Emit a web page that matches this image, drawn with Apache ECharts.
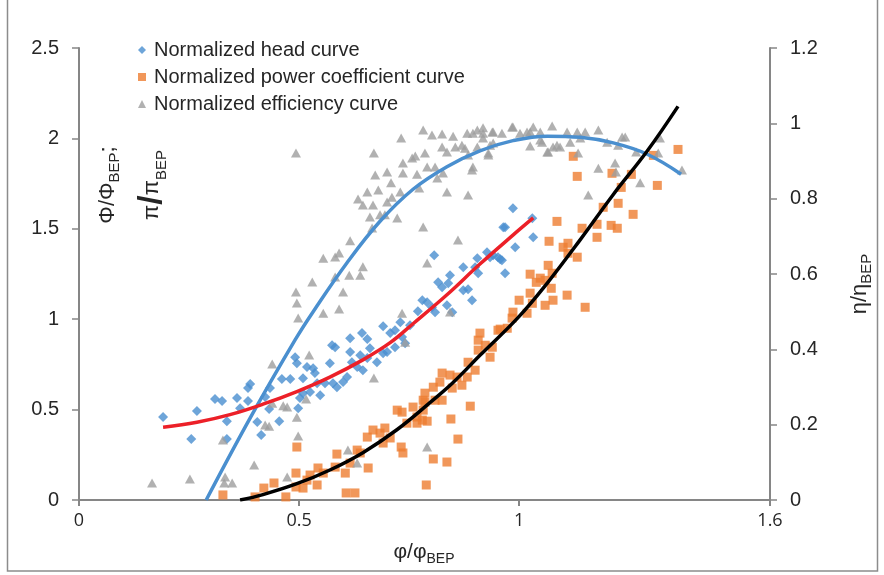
<!DOCTYPE html>
<html>
<head>
<meta charset="utf-8">
<script src="https://cdn.jsdelivr.net/npm/echarts@6/dist/echarts.min.js"></script>
<style>
  html, body { margin: 0; padding: 0; background: #fff; }
  #chart { width: 884px; height: 575px; }
</style>
</head>
<body>
<div id="chart"></div>
<script>
// phi/phi_BEP vs normalized head (left axis)
var headData = [
    [0.191, 0.459], [0.268, 0.492], [0.255, 0.337], [0.309, 0.558], [0.325, 0.547],
    [0.359, 0.564], [0.366, 0.508], [0.384, 0.547], [0.384, 0.619], [0.389, 0.641],
    [0.336, 0.436], [0.336, 0.337], [0.405, 0.431], [0.414, 0.359], [0.434, 0.619],
    [0.423, 0.569], [0.432, 0.503], [0.455, 0.436], [0.461, 0.669], [0.480, 0.669],
    [0.491, 0.790], [0.495, 0.757], [0.509, 0.674], [0.518, 0.735], [0.532, 0.729],
    [0.536, 0.702], [0.502, 0.564], [0.498, 0.508], [0.509, 0.591], [0.525, 0.597],
    [0.548, 0.580], [0.541, 0.646], [0.570, 0.757], [0.575, 0.856], [0.582, 0.845],
    [0.559, 0.646], [0.577, 0.646], [0.586, 0.624], [0.600, 0.652], [0.609, 0.680],
    [0.616, 0.818], [0.620, 0.762], [0.632, 0.735], [0.645, 0.718], [0.639, 0.801],
    [0.655, 0.785], [0.661, 0.840], [0.691, 0.812], [0.700, 0.818], [0.677, 0.762],
    [0.718, 0.845], [0.741, 0.867], [0.616, 0.895], [0.643, 0.923], [0.655, 0.890],
    [0.691, 0.961], [0.707, 0.923], [0.718, 0.939], [0.734, 0.901], [0.730, 0.983],
    [0.752, 0.967], [0.770, 1.044], [0.780, 1.105], [0.791, 1.094], [0.802, 1.066],
    [0.809, 1.039], [0.836, 1.077], [0.848, 1.039], [0.825, 1.177], [0.839, 1.199],
    [0.816, 1.204], [0.843, 1.243], [0.873, 1.160], [0.884, 1.166], [0.893, 1.105],
    [0.873, 1.287], [0.900, 1.287], [0.907, 1.254], [0.905, 1.337], [0.927, 1.370],
    [0.934, 1.343], [0.952, 1.343], [0.961, 1.326], [0.968, 1.254], [0.807, 1.354],
    [0.964, 1.508], [0.986, 1.613], [1.032, 1.453], [0.991, 1.398], [0.968, 1.508],
    [1.030, 1.558], [0.941, 1.354], [0.957, 1.331]
];

// normalized power coefficient (left axis)
var powerData = [
    [0.327, 0.028], [0.495, 0.293], [0.493, 0.149], [0.493, 0.072], [0.470, 0.017],
    [0.420, 0.066], [0.443, 0.094], [0.400, 0.017], [0.518, 0.110], [0.509, 0.066],
    [0.541, 0.083], [0.543, 0.177], [0.525, 0.138], [0.555, 0.149], [0.582, 0.182],
    [0.586, 0.254], [0.605, 0.149], [0.607, 0.039], [0.627, 0.039], [0.616, 0.204],
    [0.639, 0.260], [0.632, 0.276], [0.657, 0.177], [0.655, 0.348], [0.668, 0.387],
    [0.684, 0.370], [0.695, 0.398], [0.707, 0.343], [0.723, 0.497], [0.734, 0.486],
    [0.732, 0.293], [0.736, 0.260], [0.759, 0.514], [0.768, 0.459], [0.782, 0.552],
    [0.786, 0.591], [0.789, 0.083], [0.768, 0.425], [0.745, 0.425], [0.691, 0.315],
    [0.805, 0.227], [0.836, 0.210], [0.861, 0.337], [0.845, 0.448], [0.889, 0.519],
    [0.791, 0.436], [0.786, 0.541], [0.809, 0.552], [0.825, 0.552], [0.805, 0.624],
    [0.820, 0.652], [0.825, 0.702], [0.843, 0.691], [0.859, 0.680], [0.848, 0.619],
    [0.870, 0.635], [0.882, 0.680], [0.884, 0.762], [0.900, 0.718], [0.907, 0.829],
    [0.907, 0.884], [0.911, 0.923], [0.923, 0.856], [0.939, 0.845], [0.934, 0.790],
    [0.957, 0.945], [0.973, 0.950], [0.782, 0.497], [0.780, 0.442], [0.952, 0.939],
    [0.984, 1.006], [0.986, 1.039], [1.018, 1.033], [1.000, 1.105], [1.025, 1.144],
    [1.030, 1.088], [1.059, 1.077], [1.077, 1.105], [1.109, 1.133], [1.150, 1.066],
    [1.025, 1.249], [1.039, 1.204], [1.048, 1.227], [1.066, 1.298], [1.075, 1.254],
    [1.073, 1.171], [1.059, 1.215], [1.068, 1.431], [1.100, 1.398], [1.111, 1.420],
    [1.111, 1.365], [1.132, 1.343], [1.086, 1.541], [1.143, 1.503], [1.177, 1.453],
    [1.177, 1.525], [1.191, 1.619], [1.209, 1.519], [1.223, 1.503], [1.225, 1.641],
    [1.259, 1.580], [1.232, 1.729], [1.255, 1.801], [1.211, 1.807], [1.132, 1.790],
    [1.123, 1.901], [1.305, 1.906], [1.314, 1.740], [1.361, 1.939]
];

// normalized efficiency (right axis)
var effData = [
    [0.166, 0.045], [0.252, 0.056], [0.332, 0.061], [0.348, 0.045], [0.330, 0.045],
    [0.398, 0.093], [0.473, 0.061], [0.498, 0.170], [0.327, 0.159], [0.423, 0.199],
    [0.432, 0.196], [0.439, 0.257], [0.464, 0.250], [0.473, 0.247], [0.495, 0.220],
    [0.516, 0.268], [0.439, 0.361], [0.523, 0.385], [0.670, 0.324], [0.611, 0.133],
    [0.632, 0.098], [0.741, 0.419], [0.791, 0.141], [0.493, 0.921], [0.493, 0.552],
    [0.495, 0.523], [0.498, 0.483], [0.555, 0.496], [0.530, 0.579], [0.555, 0.642],
    [0.582, 0.645], [0.591, 0.656], [0.582, 0.592], [0.600, 0.552], [0.591, 0.507],
    [0.616, 0.688], [0.614, 0.597], [0.639, 0.597], [0.645, 0.619], [0.634, 0.799],
    [0.645, 0.783], [0.655, 0.818], [0.666, 0.722], [0.661, 0.751], [0.684, 0.757],
    [0.695, 0.757], [0.668, 0.783], [0.680, 0.823], [0.700, 0.791], [0.711, 0.804],
    [0.709, 0.842], [0.723, 0.749], [0.730, 0.818], [0.736, 0.868], [0.700, 0.871],
    [0.673, 0.863], [0.670, 0.921], [0.732, 0.961], [0.736, 0.895], [0.757, 0.908],
    [0.764, 0.913], [0.768, 0.865], [0.773, 0.828], [0.786, 0.921], [0.791, 0.884],
    [0.809, 0.884], [0.814, 0.855], [0.782, 0.982], [0.802, 0.969], [0.825, 0.972],
    [0.825, 0.937], [0.836, 0.924], [0.827, 0.868], [0.850, 0.966], [0.855, 0.937],
    [0.870, 0.942], [0.882, 0.974], [0.895, 0.974], [0.905, 0.982], [0.918, 0.974],
    [0.941, 0.977], [0.961, 0.974], [0.984, 0.990], [1.002, 0.974], [1.025, 0.977],
    [1.032, 0.990], [1.048, 0.977], [1.075, 0.993], [0.877, 0.934], [0.884, 0.916],
    [0.930, 0.921], [0.895, 0.884], [0.893, 0.876], [0.836, 0.818], [0.884, 0.810],
    [0.905, 0.937], [0.934, 0.942], [1.052, 0.950], [1.064, 0.924], [1.086, 0.942],
    [0.782, 0.725], [0.861, 0.690], [0.791, 0.629], [0.734, 0.496], [0.843, 0.499],
    [0.918, 0.988], [0.939, 0.977], [0.986, 0.990], [1.018, 0.977], [1.109, 0.977],
    [1.132, 0.977], [1.150, 0.977], [1.180, 0.982], [1.234, 0.964], [1.241, 0.964],
    [1.320, 0.961], [0.918, 0.961], [0.941, 0.948], [0.930, 0.916], [1.025, 0.940],
    [1.048, 0.956], [1.066, 0.924], [1.077, 0.937], [1.093, 0.937], [1.116, 0.950],
    [1.139, 0.961], [1.200, 0.950], [1.225, 0.942], [1.134, 0.921], [1.180, 0.881],
    [1.218, 0.895], [1.220, 0.871], [1.157, 0.810], [1.275, 0.842], [1.266, 0.924],
    [1.316, 0.921], [1.370, 0.876]
];

// trend lines
var effTrend = [
    [0.289, 0], [0.39, 0.22], [0.491, 0.425], [0.532, 0.50], [0.609, 0.63],
    [0.684, 0.74], [0.759, 0.825], [0.836, 0.885], [0.911, 0.927], [0.986, 0.954],
    [1.064, 0.966], [1.139, 0.963], [1.214, 0.948], [1.291, 0.918], [1.368, 0.865]
];
var headTrend = [
    [0.191, 0.403], [0.268, 0.430], [0.343, 0.472], [0.418, 0.530], [0.495, 0.600],
    [0.570, 0.680], [0.645, 0.775], [0.707, 0.870], [0.759, 0.975], [0.836, 1.135],
    [0.911, 1.305], [0.986, 1.465], [1.032, 1.56]
];
var powerTrend = [
    [0.366, 0], [0.418, 0.03], [0.495, 0.09], [0.570, 0.166], [0.645, 0.262],
    [0.723, 0.39], [0.798, 0.54], [0.85, 0.65], [0.911, 0.80], [0.998, 1.01],
    [1.064, 1.20], [1.139, 1.44], [1.214, 1.69], [1.291, 1.93], [1.361, 2.177]
];

var seriesNames = ['Normalized head curve', 'Normalized power coefficient curve', 'Normalized efficiency curve'];
var xTickValues = [0, 0.5, 1, 1.57];
var xTickLabels = ['0', '0.5', '1', '1.6'];

var chart = echarts.init(document.getElementById('chart'));

var textColor = '#262626';
var axisColor = '#868686';
var font = 'Liberation Sans, Arial, sans-serif';

var option = {
    backgroundColor: '#fff',
    animation: false,
    grid: { left: 79, right: 114, top: 48, bottom: 75 },
    legend: {
        orient: 'vertical',
        left: 133,
        top: 35,
        itemWidth: 8,
        itemHeight: 8,
        itemGap: 7,
        data: seriesNames,
        textStyle: { fontSize: 20, fontFamily: font, color: textColor, padding: [0, 0, 0, 3] }
    },
    xAxis: {
        type: 'value',
        min: 0,
        max: 1.57,
        splitLine: { show: false },
        axisLine: { onZero: false, lineStyle: { color: axisColor, width: 2 } },
        axisTick: { length: 6, lineStyle: { color: axisColor, width: 2 }, customValues: xTickValues },
        axisLabel: {
            customValues: xTickValues,
            margin: 12,
            fontSize: 18,
            fontFamily: 'Open Sans, sans-serif',
            color: textColor,
            formatter: function (v) {
                var i = xTickValues.indexOf(v);
                return i >= 0 ? xTickLabels[i] : '';
            }
        }
    },
    yAxis: [{
        type: 'value',
        min: 0,
        max: 2.5,
        interval: 0.5,
        splitLine: { show: false },
        axisLine: { show: true, lineStyle: { color: axisColor, width: 2 } },
        axisTick: { show: true, length: 7, lineStyle: { color: axisColor, width: 1.5 } },
        axisLabel: { margin: 20, fontSize: 20, fontFamily: font, color: textColor }
    }, {
        type: 'value',
        min: 0,
        max: 1.2,
        interval: 0.2,
        position: 'right',
        splitLine: { show: false },
        axisLine: { show: true, lineStyle: { color: axisColor, width: 2 } },
        axisTick: { show: true, length: 7, lineStyle: { color: axisColor, width: 1.5 } },
        axisLabel: { margin: 20, fontSize: 20, fontFamily: font, color: textColor }
    }],
    graphic: [
        {
            type: 'rect', silent: true,
            shape: { x: 7.5, y: -5, width: 870, height: 576 },
            style: { fill: 'none', stroke: '#8c8c8c', lineWidth: 1.5 }
        },
        {
            type: 'text', x: 108, y: 185, rotation: Math.PI / 2,
            style: {
                text: '{a|Φ/Φ}{b|BEP}{a|;}',
                align: 'center', verticalAlign: 'middle',
                rich: {
                    a: { fontSize: 22, fontFamily: font, fill: textColor, lineHeight: 28, verticalAlign: 'middle' },
                    b: { fontSize: 15, fontFamily: font, fill: textColor, lineHeight: 15, verticalAlign: 'bottom' }
                }
            }
        },
        {
            type: 'text', x: 152, y: 185, rotation: Math.PI / 2,
            style: {
                text: '{a|π}{c|/}{a|π}{b|BEP}',
                align: 'center', verticalAlign: 'middle',
                rich: {
                    a: { fontSize: 22, fontFamily: font, fill: textColor, lineHeight: 28, verticalAlign: 'middle' },
                    c: { fontSize: 34, fontFamily: font, fontWeight: 'bold', fill: textColor, lineHeight: 34, verticalAlign: 'middle' },
                    b: { fontSize: 15, fontFamily: font, fill: textColor, lineHeight: 15, verticalAlign: 'bottom' }
                }
            }
        },
        {
            type: 'text', x: 860, y: 284, rotation: Math.PI / 2,
            style: {
                text: '{a|η/η}{b|BEP}',
                align: 'center', verticalAlign: 'middle',
                rich: {
                    a: { fontSize: 22, fontFamily: font, fill: textColor, lineHeight: 28, verticalAlign: 'middle' },
                    b: { fontSize: 15, fontFamily: font, fill: textColor, lineHeight: 15, verticalAlign: 'bottom' }
                }
            }
        },
        {
            type: 'text', x: 424, y: 552,
            style: {
                text: '{a|φ/φ}{b|BEP}',
                align: 'center', verticalAlign: 'middle',
                rich: {
                    a: { fontSize: 21, fontFamily: font, fill: textColor, lineHeight: 28, verticalAlign: 'middle' },
                    b: { fontSize: 14, fontFamily: font, fill: textColor, lineHeight: 14, verticalAlign: 'bottom' }
                }
            }
        }
    ],
    series: [
        {
            name: seriesNames[0], type: 'scatter', yAxisIndex: 0,
            symbol: 'diamond', symbolSize: 10,
            itemStyle: { color: '#4A8FCF' },
            data: headData
        },
        {
            name: seriesNames[1], type: 'scatter', yAxisIndex: 0,
            symbol: 'rect', symbolSize: 9,
            itemStyle: { color: '#ED7D31' },
            data: powerData
        },
        {
            name: seriesNames[2], type: 'scatter', yAxisIndex: 1,
            symbol: 'triangle', symbolSize: [10, 9],
            itemStyle: { color: '#9E9E9E' },
            data: effData
        },
        {
            type: 'line', yAxisIndex: 1, smooth: 0.4, showSymbol: false, silent: true,
            lineStyle: { color: '#4A8FCF', width: 3.5 },
            data: effTrend
        },
        {
            type: 'line', yAxisIndex: 0, smooth: 0.4, showSymbol: false, silent: true,
            lineStyle: { color: '#EC2028', width: 3.5 },
            data: headTrend
        },
        {
            type: 'line', yAxisIndex: 0, smooth: 0.4, showSymbol: false, silent: true,
            lineStyle: { color: '#000', width: 3.5 },
            data: powerTrend
        }
    ]
};

chart.setOption(option);
</script>
</body>
</html>
